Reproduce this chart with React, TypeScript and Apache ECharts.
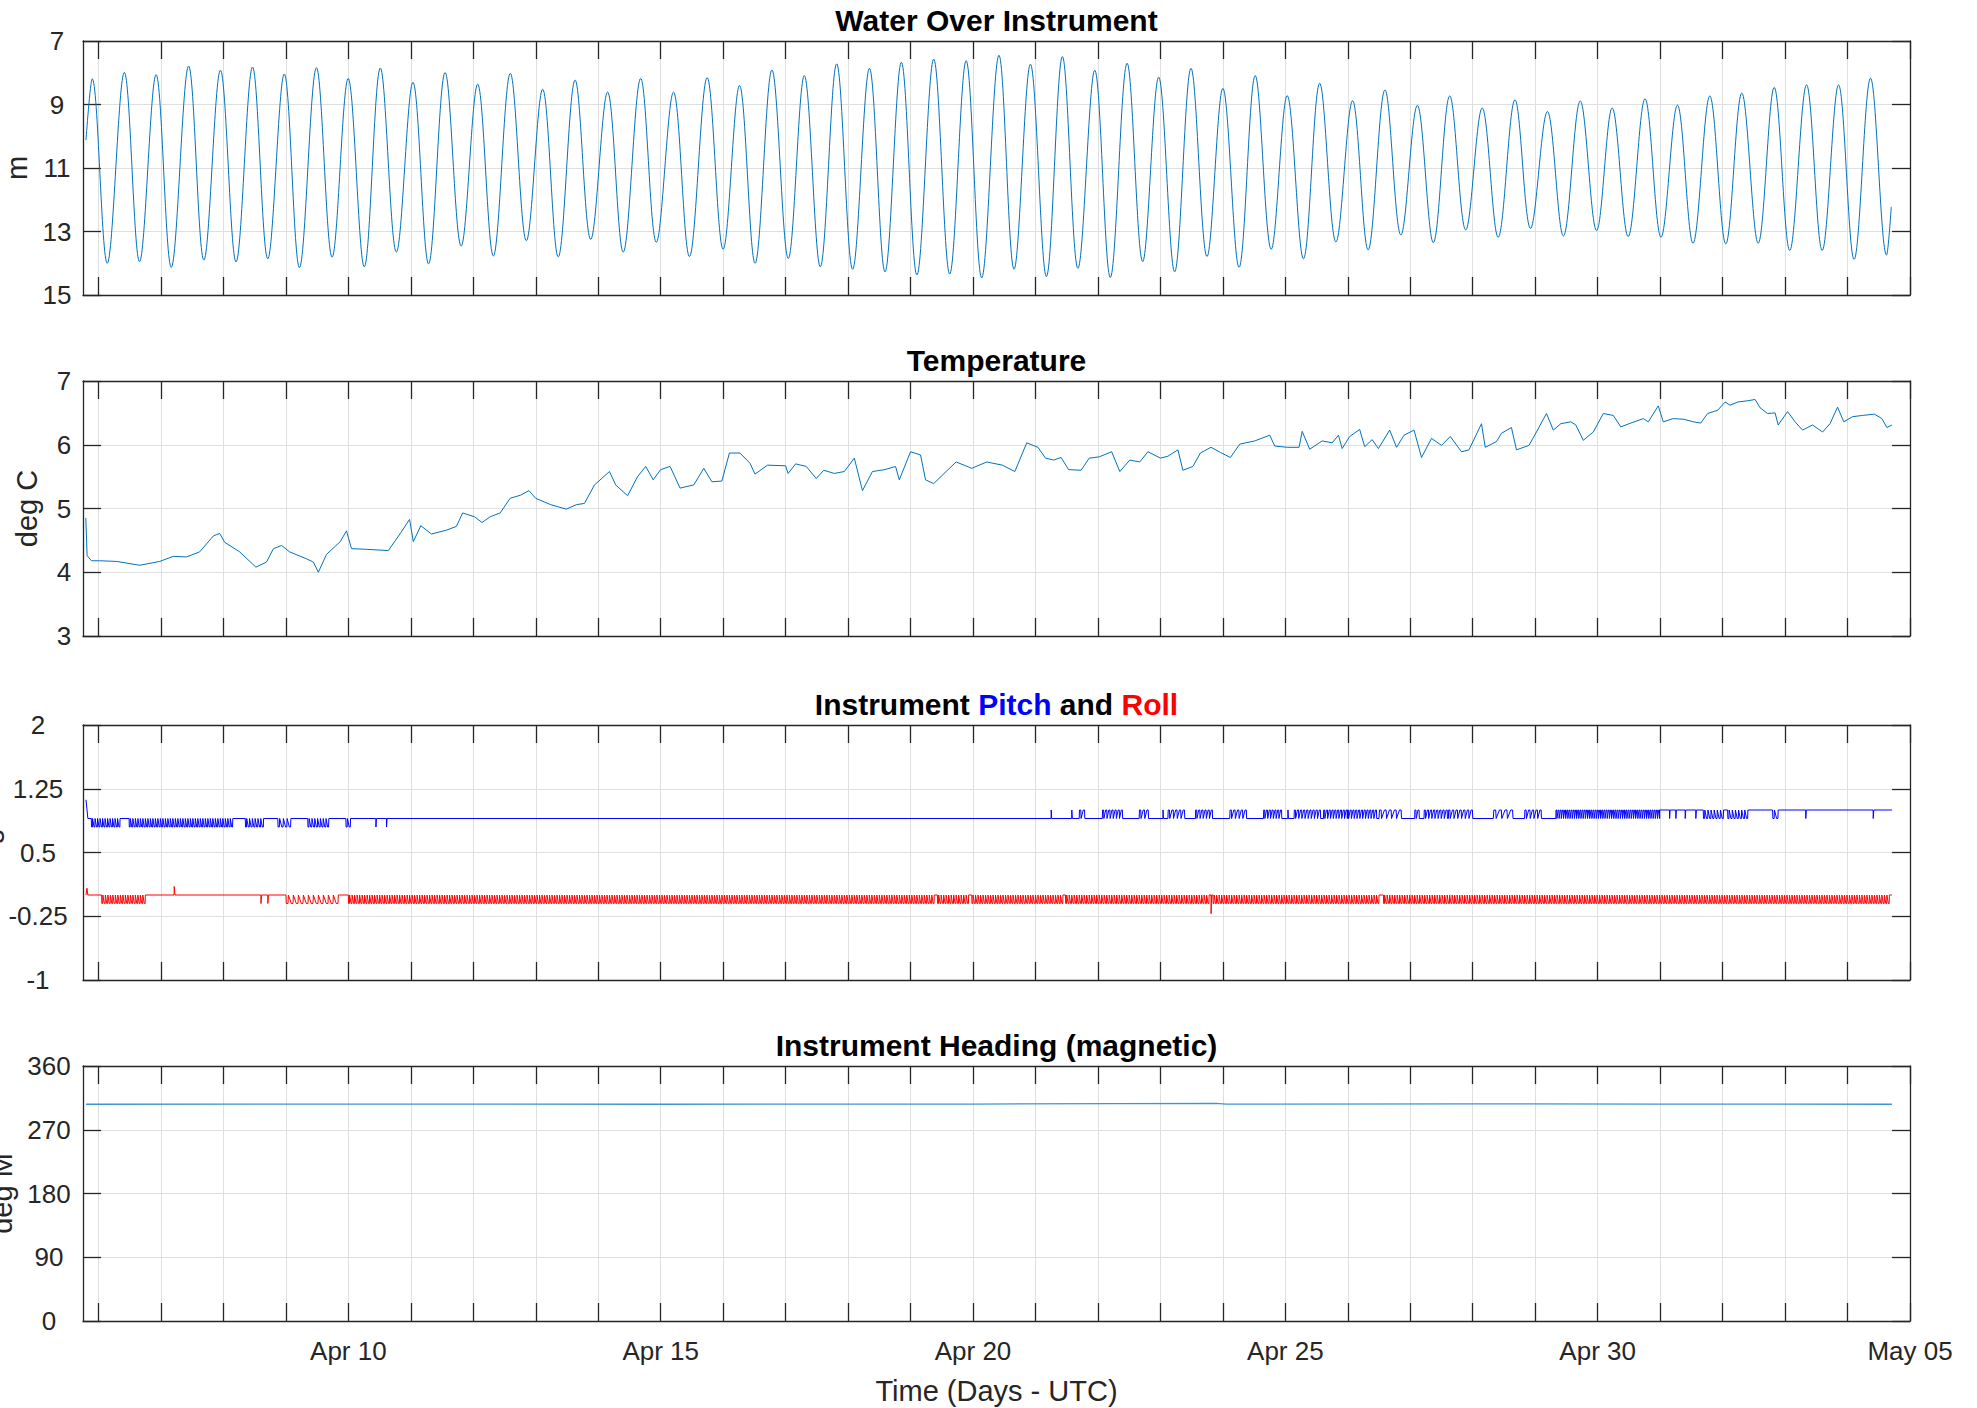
import React, { useEffect, useRef } from "react";
import * as echarts from "echarts";

// ---------- axis ranges (x is fractional day of April, May 5 = 35) ----------
const X_MIN = 5.752;
const X_MAX = 35;
const DAY_TICKS = [6, 7, 8, 9, 10, 11, 12, 13, 14, 15, 16, 17, 18, 19, 20, 21, 22, 23, 24, 25, 26, 27, 28, 29, 30, 31, 32, 33, 34, 35];
const DAY_LABELS = [10, 15, 20, 25, 30, 35];

const TITLES = ["Water Over Instrument", "Temperature", "Instrument Pitch and Roll", "Instrument Heading (magnetic)"];
const Y_NAMES = ["m", "deg C", "deg", "deg M"];
const X_NAME = "Time (Days - UTC)";

// y axes: [min, max, interval, inverse]
const Y_RANGES: [number, number, number, boolean][] = [
  [7, 15, 2, true],
  [3, 7, 1, false],
  [-1, 2, 0.75, false],
  [0, 360, 90, false],
];

// ---------- data ----------
// Water over instrument: tidal highs and lows [day, m]
const WATER: [number, number][] = [
  [5.8, 10.12],
  [5.9, 8.19], [6.14, 14.0], [6.414, 7.99], [6.657, 13.95], [6.922, 8.06], [7.165, 14.13],
  [7.443, 7.79], [7.687, 13.9], [7.952, 7.92], [8.202, 13.96], [8.466, 7.82], [8.71, 13.86],
  [8.974, 8.04], [9.217, 14.14], [9.489, 7.84], [9.74, 13.81], [9.997, 8.18], [10.255, 14.11],
  [10.512, 7.85], [10.769, 13.65], [11.034, 8.3], [11.284, 14.02], [11.549, 7.99], [11.806, 13.46],
  [12.07, 8.36], [12.321, 13.77], [12.593, 8.02], [12.85, 13.29], [13.11, 8.52], [13.36, 13.8],
  [13.63, 8.23], [13.88, 13.25], [14.15, 8.61], [14.4, 13.65], [14.68, 8.18], [14.93, 13.34],
  [15.205, 8.61], [15.46, 13.79], [15.744, 8.15], [16.0, 13.56], [16.262, 8.4], [16.511, 14.0],
  [16.781, 7.91], [17.043, 13.85], [17.299, 8.09], [17.555, 14.11], [17.817, 7.72], [18.073, 14.19],
  [18.342, 7.86], [18.591, 14.27], [18.853, 7.67], [19.102, 14.37], [19.371, 7.57], [19.627, 14.34],
  [19.89, 7.62], [20.139, 14.46], [20.415, 7.45], [20.657, 14.19], [20.919, 7.73], [21.175, 14.42],
  [21.431, 7.49], [21.68, 14.16], [21.949, 7.92], [22.198, 14.45], [22.467, 7.7], [22.716, 13.95],
  [22.972, 8.14], [23.228, 14.27], [23.49, 7.86], [23.746, 13.79], [24.0, 8.49], [24.259, 14.13],
  [24.518, 8.09], [24.774, 13.56], [25.03, 8.72], [25.29, 13.86], [25.55, 8.33], [25.81, 13.33],
  [26.076, 8.88], [26.325, 13.58], [26.595, 8.54], [26.85, 13.11], [27.113, 9.03], [27.369, 13.35],
  [27.632, 8.73], [27.888, 12.95], [28.151, 9.11], [28.407, 13.18], [28.676, 8.85], [28.925, 12.9],
  [29.195, 9.22], [29.451, 13.14], [29.721, 8.89], [29.983, 12.97], [30.232, 9.11], [30.488, 13.16],
  [30.758, 8.82], [31.014, 13.18], [31.277, 9.02], [31.526, 13.37], [31.795, 8.73], [32.051, 13.39],
  [32.307, 8.64], [32.57, 13.37], [32.826, 8.46], [33.075, 13.6], [33.344, 8.38], [33.594, 13.6],
  [33.856, 8.38], [34.105, 13.88], [34.368, 8.17], [34.624, 13.74],
  [34.7, 12.22],
];

// Temperature [day, deg C]
const TEMPERATURE: [number, number][] = [
  [5.797, 4.85], [5.818, 4.26], [5.888, 4.18], [6.02, 4.18], [6.29, 4.17], [6.66, 4.11], [6.98, 4.17],
  [7.2, 4.25], [7.41, 4.24], [7.62, 4.32], [7.84, 4.57], [7.94, 4.61], [8.02, 4.47], [8.26, 4.32],
  [8.52, 4.08], [8.69, 4.16], [8.8, 4.37], [8.93, 4.42], [9.06, 4.32], [9.33, 4.21], [9.44, 4.16],
  [9.52, 4.0], [9.65, 4.28], [9.87, 4.48], [9.97, 4.65], [10.05, 4.37], [10.29, 4.36], [10.64, 4.34],
  [10.84, 4.62], [10.98, 4.83], [11.04, 4.48], [11.16, 4.73], [11.33, 4.6], [11.57, 4.66], [11.73, 4.72],
  [11.83, 4.93], [12.02, 4.87], [12.14, 4.78], [12.27, 4.87], [12.43, 4.93], [12.59, 5.16], [12.76, 5.21],
  [12.89, 5.28], [13.0, 5.16], [13.24, 5.06], [13.49, 4.99], [13.65, 5.06], [13.78, 5.08], [13.94, 5.37],
  [14.18, 5.58], [14.28, 5.37], [14.47, 5.2], [14.63, 5.5], [14.76, 5.66], [14.88, 5.45], [15.0, 5.61],
  [15.15, 5.66], [15.31, 5.32], [15.53, 5.37], [15.69, 5.63], [15.82, 5.42], [15.98, 5.43], [16.1, 5.87],
  [16.27, 5.87], [16.43, 5.71], [16.51, 5.54], [16.71, 5.68], [17.0, 5.67], [17.04, 5.55], [17.16, 5.7],
  [17.33, 5.66], [17.49, 5.47], [17.61, 5.6], [17.78, 5.55], [17.94, 5.58], [18.1, 5.79], [18.23, 5.28],
  [18.39, 5.58], [18.59, 5.61], [18.76, 5.66], [18.82, 5.45], [19.0, 5.89], [19.16, 5.84], [19.24, 5.45],
  [19.37, 5.39], [19.57, 5.58], [19.73, 5.73], [19.98, 5.63], [20.22, 5.73], [20.47, 5.68], [20.67, 5.58],
  [20.86, 6.03], [21.04, 5.96], [21.16, 5.79], [21.29, 5.76], [21.41, 5.8], [21.53, 5.61], [21.73, 5.6],
  [21.86, 5.79], [22.02, 5.81], [22.22, 5.89], [22.35, 5.58], [22.51, 5.76], [22.67, 5.73], [22.8, 5.89],
  [23.0, 5.79], [23.12, 5.82], [23.28, 5.92], [23.36, 5.6], [23.52, 5.66], [23.64, 5.87], [23.81, 5.96],
  [23.96, 5.88], [24.12, 5.8], [24.27, 6.01], [24.51, 6.06], [24.75, 6.15], [24.83, 5.98], [25.03, 5.96],
  [25.22, 5.96], [25.27, 6.21], [25.39, 5.93], [25.59, 6.06], [25.75, 6.03], [25.85, 6.15], [25.91, 5.94],
  [26.03, 6.13], [26.19, 6.24], [26.27, 5.97], [26.39, 6.08], [26.49, 5.94], [26.67, 6.23], [26.78, 5.96],
  [26.9, 6.15], [27.06, 6.23], [27.18, 5.8], [27.34, 6.1], [27.5, 5.99], [27.64, 6.13], [27.82, 5.89],
  [27.94, 5.92], [28.14, 6.33], [28.2, 5.96], [28.38, 6.05], [28.46, 6.18], [28.62, 6.27], [28.7, 5.92],
  [28.9, 5.99], [29.02, 6.2], [29.18, 6.49], [29.29, 6.23], [29.41, 6.33], [29.57, 6.36], [29.65, 6.31],
  [29.77, 6.07], [29.93, 6.2], [30.09, 6.49], [30.25, 6.46], [30.37, 6.28], [30.53, 6.34], [30.73, 6.41],
  [30.81, 6.36], [30.97, 6.61], [31.05, 6.36], [31.21, 6.41], [31.38, 6.4], [31.53, 6.36], [31.65, 6.34],
  [31.76, 6.49], [31.92, 6.54], [32.04, 6.67], [32.12, 6.62], [32.24, 6.67], [32.4, 6.69], [32.52, 6.71],
  [32.6, 6.58], [32.72, 6.49], [32.84, 6.5], [32.89, 6.31], [33.04, 6.52], [33.16, 6.36], [33.28, 6.23],
  [33.44, 6.31], [33.6, 6.2], [33.72, 6.33], [33.84, 6.59], [33.94, 6.36], [34.08, 6.44], [34.24, 6.46],
  [34.43, 6.48], [34.55, 6.41], [34.63, 6.27], [34.71, 6.31],
];

// Pitch: start points, then flicker bursts [startDay, endDay, baseline, flickerLevel, cadence]
const PITCH_START: [number, number][] = [[5.8, 1.12], [5.83, 0.9]];
const PITCH_BURSTS: number[][] = [
  [5.885, 6.35, 0.9, 0.8, 0.04], [6.49, 8.14, 0.9, 0.8, 0.04], [8.35, 8.64, 0.9, 0.8, 0.045],
  [8.87, 9.1, 0.9, 0.8, 0.06], [9.35, 9.68, 0.9, 0.8, 0.045], [9.96, 10.05, 0.9, 0.8, 0.05],
  [10.44, 10.44, 0.9, 0.8, 0.02], [10.61, 10.61, 0.9, 0.8, 0.02],
  [21.25, 21.25, 0.9, 1.0, 0.02], [21.58, 21.58, 0.9, 1.0, 0.02], [21.7, 21.78, 0.9, 1.0, 0.06],
  [22.07, 22.37, 0.9, 1.0, 0.05], [22.66, 22.81, 0.9, 1.0, 0.06], [23.04, 23.04, 0.9, 1.0, 0.02],
  [23.12, 23.36, 0.9, 1.0, 0.06], [23.56, 23.81, 0.9, 1.0, 0.05], [24.11, 24.39, 0.9, 1.0, 0.06],
  [24.65, 24.96, 0.9, 1.0, 0.045], [25.04, 25.04, 0.9, 1.0, 0.02], [25.14, 25.57, 0.9, 1.0, 0.05],
  [25.61, 25.97, 0.9, 1.0, 0.045], [25.99, 26.47, 0.9, 1.0, 0.045], [26.5, 26.86, 0.9, 1.0, 0.08],
  [27.07, 27.15, 0.9, 1.0, 0.05], [27.22, 27.58, 0.9, 1.0, 0.05], [27.61, 28.0, 0.9, 1.0, 0.06],
  [28.33, 28.6, 0.9, 1.0, 0.09], [28.83, 29.11, 0.9, 1.0, 0.06], [29.33, 31.0, 0.9, 1.0, 0.035],
  [31.15, 31.15, 1.0, 0.9, 0.02], [31.25, 31.25, 1.0, 0.9, 0.02], [31.4, 31.4, 1.0, 0.9, 0.02],
  [31.57, 31.57, 1.0, 0.9, 0.02], [31.69, 32.01, 1.0, 0.9, 0.05], [32.08, 32.4, 1.0, 0.9, 0.05],
  [32.8, 32.87, 1.0, 0.9, 0.06], [33.33, 33.33, 1.0, 0.9, 0.02], [34.41, 34.41, 1.0, 0.9, 0.02],
];
const PITCH_END = 34.71;

// Roll
const ROLL_START: [number, number][] = [[5.8, 0.0], [5.815, 0.08], [5.83, 0.0]];
const ROLL_BURSTS: number[][] = [
  [6.05, 6.74, 0.0, -0.1, 0.04], [7.21, 7.21, 0.0, 0.1, 0.03], [8.6, 8.6, 0.0, -0.1, 0.02],
  [8.71, 8.71, 0.0, -0.1, 0.02], [9.0, 9.85, 0.0, -0.1, 0.08], [10.0, 19.37, 0.0, -0.1, 0.04],
  [19.43, 19.92, 0.0, -0.1, 0.04], [19.98, 21.42, 0.0, -0.1, 0.04], [21.48, 23.78, 0.0, -0.1, 0.04],
  [23.81, 23.81, 0.0, -0.22, 0.02], [23.84, 26.5, 0.0, -0.1, 0.04], [26.57, 34.66, 0.0, -0.1, 0.04],
];
const ROLL_END = 34.71;

// Heading [day, deg M]
const HEADING: [number, number][] = [
  [5.8, 306], [10.0, 306.2], [15.0, 306], [20.0, 306.3], [23.9, 307.3], [24.05, 306.2],
  [28.0, 306.5], [31.0, 306.2], [34.71, 306],
];

// ---------- helpers ----------
function dayLabel(v: number): string {
  const d = Math.round(v);
  const m = d > 30 ? "May" : "Apr";
  const dd = d > 30 ? d - 30 : d;
  return `${m} ${String(dd).padStart(2, "0")}`;
}

// expands the read burst intervals into the two-level flicker the sensor shows
function flicker(start: [number, number][], bursts: number[][], endDay: number): number[][] {
  const pts: number[][] = start.map((p) => [p[0], p[1]]);
  let level = pts[pts.length - 1][1];
  let lastT = pts[pts.length - 1][0];
  for (const [s, e, base, alt, cad] of bursts) {
    if (base !== level) {
      pts.push([lastT, base]);
      level = base;
    }
    pts.push([s, base]);
    let t = s;
    do {
      pts.push([t + cad * 0.08, alt]);
      pts.push([t + cad * 0.42, alt]);
      pts.push([t + cad * 0.5, base]);
      t += cad;
    } while (t <= e + 1e-9);
    lastT = t - cad * 0.5;
  }
  pts.push([endDay, level]);
  return pts;
}

const FONT = '"Liberation Sans", Arial, Helvetica, sans-serif';
const AX = "#262626";
const GRIDC = "#dfdfdf";
const BLUE_LINE = "#0072BD";

const LEFT = 83;
const RIGHT = 1977 - 1910;
const TOPS = [41, 381, 725, 1066];
const HEIGHTS = [254, 255, 255, 255];
const Y_LABEL_MARGIN = [26, 19, 45, 34];
const Y_NAME_X = [17, 27, -12, 2];
const TITLE_Y = [20.5, 360.5, 704.5, 1045.5];

function buildOption() {
  const grid = TOPS.map((t, i) => ({ left: LEFT, right: RIGHT, top: t, height: HEIGHTS[i], containLabel: false }));
  const tickStyle = { color: AX, width: 1.3 };
  const xAxis: any[] = [];
  const yAxis: any[] = [];
  for (let i = 0; i < 4; i++) {
    xAxis.push({
      type: "value", gridIndex: i, position: "bottom", min: X_MIN, max: X_MAX,
      axisLine: { show: true, onZero: false, lineStyle: tickStyle },
      axisTick: { show: true, inside: true, length: 18, customValues: DAY_TICKS, lineStyle: tickStyle },
      axisLabel: {
        show: i === 3, customValues: DAY_LABELS, formatter: (v: number) => dayLabel(v), margin: 17,
        fontSize: 26, color: AX, fontFamily: FONT, showMinLabel: true, showMaxLabel: true,
      },
      splitLine: { show: true, lineStyle: { color: GRIDC, width: 1 } },
    });
  }
  for (let i = 0; i < 4; i++) {
    xAxis.push({
      type: "value", gridIndex: i, position: "top", min: X_MIN, max: X_MAX,
      axisLine: { show: true, onZero: false, lineStyle: tickStyle },
      axisTick: { show: true, inside: true, length: 18, customValues: DAY_TICKS, lineStyle: tickStyle },
      axisLabel: { show: false },
      splitLine: { show: false },
    });
  }
  for (let i = 0; i < 4; i++) {
    const [mn, mx, iv, inv] = Y_RANGES[i];
    yAxis.push({
      type: "value", gridIndex: i, position: "left", min: mn, max: mx, interval: iv, inverse: inv,
      axisLine: { show: true, onZero: false, lineStyle: tickStyle },
      axisTick: { show: true, inside: true, length: 18, lineStyle: tickStyle },
      axisLabel: { show: true, align: "center", margin: Y_LABEL_MARGIN[i], fontSize: 26, color: AX, fontFamily: FONT },
      splitLine: { show: true, lineStyle: { color: GRIDC, width: 1 } },
    });
  }
  for (let i = 0; i < 4; i++) {
    const [mn, mx, iv, inv] = Y_RANGES[i];
    yAxis.push({
      type: "value", gridIndex: i, position: "right", min: mn, max: mx, interval: iv, inverse: inv,
      axisLine: { show: true, onZero: false, lineStyle: tickStyle },
      axisTick: { show: true, inside: true, length: 18, lineStyle: tickStyle },
      axisLabel: { show: false },
      splitLine: { show: false },
    });
  }

  const lineBase = { type: "line", showSymbol: false, symbol: "none", silent: true };
  const series: any[] = [
    { ...lineBase, name: "Water", xAxisIndex: 0, yAxisIndex: 0, data: WATER, smooth: 0.36, lineStyle: { color: BLUE_LINE, width: 1 } },
    { ...lineBase, name: "Temperature", xAxisIndex: 1, yAxisIndex: 1, data: TEMPERATURE, lineStyle: { color: BLUE_LINE, width: 1 } },
    { ...lineBase, name: "Pitch", xAxisIndex: 2, yAxisIndex: 2, data: flicker(PITCH_START, PITCH_BURSTS, PITCH_END), lineStyle: { color: "#0000FF", width: 1 } },
    { ...lineBase, name: "Roll", xAxisIndex: 2, yAxisIndex: 2, data: flicker(ROLL_START, ROLL_BURSTS, ROLL_END), lineStyle: { color: "#FF0000", width: 1 } },
    { ...lineBase, name: "Heading", xAxisIndex: 3, yAxisIndex: 3, data: HEADING, lineStyle: { color: "#3d97cf", width: 1.3 } },
  ];

  const titleStyle = (color: string) => ({ fontSize: 30, fontWeight: "bold", fontFamily: FONT, fill: color, color });
  const centerX = LEFT + (1977 - RIGHT - LEFT) / 2;
  const graphic: any[] = [];
  TITLES.forEach((t, i) => {
    const text = i === 2 ? "{k|Instrument }{p|Pitch}{k| and }{r|Roll}" : t;
    graphic.push({
      type: "text", x: centerX, y: TITLE_Y[i], silent: true,
      style: {
        text, align: "center", verticalAlign: "middle", textAlign: "center", textVerticalAlign: "middle",
        fontSize: 30, fontWeight: "bold", fontFamily: FONT, fill: "#000",
        rich: i === 2 ? { k: titleStyle("#000"), p: titleStyle("#0000FF"), r: titleStyle("#FF0000") } : undefined,
      },
    });
  });
  Y_NAMES.forEach((n, i) => {
    graphic.push({
      type: "text", x: Y_NAME_X[i], y: TOPS[i] + HEIGHTS[i] / 2, rotation: Math.PI / 2, silent: true,
      style: {
        text: n, align: "center", verticalAlign: "middle", textAlign: "center", textVerticalAlign: "middle",
        fontSize: 29, fontFamily: FONT, fill: AX,
      },
    });
  });
  graphic.push({
    type: "text", x: centerX, y: 1391, silent: true,
    style: {
      text: X_NAME, align: "center", verticalAlign: "middle", textAlign: "center", textVerticalAlign: "middle",
      fontSize: 29, fontFamily: FONT, fill: AX,
    },
  });

  return { animation: false, backgroundColor: "#ffffff", grid, xAxis, yAxis, series, graphic };
}

export default function App() {
  const ref = useRef<HTMLDivElement>(null);
  useEffect(() => {
    document.body.style.margin = "0";
    if (!ref.current) return;
    const chart = echarts.init(ref.current, undefined, { renderer: "svg" });
    chart.setOption(buildOption() as any);
    return () => chart.dispose();
  }, []);
  return <div ref={ref} style={{ width: 1977, height: 1408 }} />;
}
